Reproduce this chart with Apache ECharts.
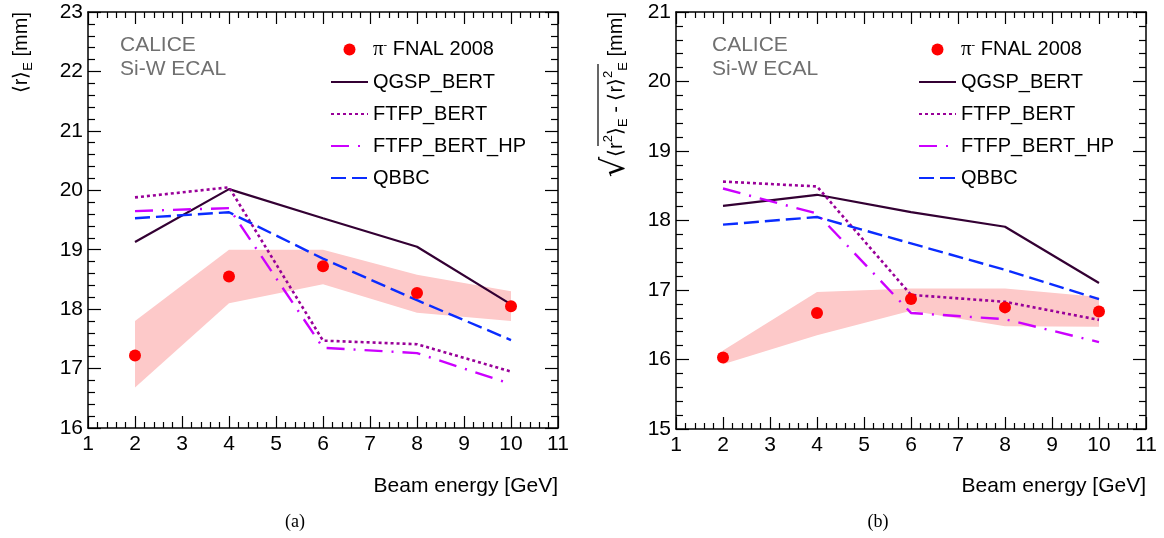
<!DOCTYPE html>
<html>
<head>
<meta charset="utf-8">
<script src="https://cdn.jsdelivr.net/npm/echarts@6/dist/echarts.min.js"></script>
<style>
  html, body { margin: 0; padding: 0; background: #fff; }
  #chart { width: 1164px; height: 538px; }
</style>
</head>
<body>
<div id="chart"></div>
<script>
// beam energies (GeV)
const energy = [2, 4, 6, 8, 10];

// panel (a): mean radius <r>_E [mm]
const dataA = [17.22, 18.55, 18.72, 18.27, 18.05];
const bandLowA = [16.68, 18.10, 18.42, 17.94, 17.80];
const bandHighA = [17.80, 19.00, 19.00, 18.58, 18.30];
const qgspA = [19.13, 20.02, 19.53, 19.05, 18.08];
const ftfpA = [19.88, 20.05, 17.47, 17.41, 16.95];
const ftfpHpA = [19.65, 19.70, 17.35, 17.26, 16.74];
const qbbcA = [19.53, 19.63, 18.85, 18.15, 17.48];

// panel (b): rms radius [mm]
const dataB = [16.03, 16.67, 16.87, 16.75, 16.69];
const bandLowB = [15.93, 16.35, 16.70, 16.48, 16.47];
const bandHighB = [16.13, 16.97, 17.02, 17.02, 16.90];
const qgspB = [18.21, 18.37, 18.12, 17.91, 17.10];
const ftfpB = [18.56, 18.49, 16.93, 16.83, 16.57];
const ftfpHpB = [18.46, 18.10, 16.67, 16.58, 16.25];
const qbbcB = [17.94, 18.05, 17.67, 17.29, 16.87];

const xTicks = [1, 11];
const yRangeA = [16, 23];
const yRangeB = [15, 21];

const names = ["π⁻ FNAL 2008", "QGSP_BERT", "FTFP_BERT", "FTFP_BERT_HP", "QBBC"];
const font = "Liberation Sans, Arial, Helvetica, sans-serif";

const pts = (arr) => arr.map((v, i) => [energy[i], v]);

function xAxis(grid, pos) {
  return {
    type: "value",
    gridIndex: grid,
    position: pos,
    min: xTicks[0],
    max: xTicks[1],
    interval: 1,
    axisLine: { onZero: false, lineStyle: { color: "#000", width: 1.5 } },
    axisTick: { inside: true, length: 12, lineStyle: { color: "#000", width: 1.2 } },
    minorTick: { show: true, splitNumber: 5, length: 6, lineStyle: { color: "#000", width: 1.2 } },
    splitLine: { show: false },
    axisLabel: { show: pos === "bottom", fontSize: 21, color: "#000", fontFamily: font, margin: 6 },
  };
}

function yAxis(grid, pos, range) {
  return {
    type: "value",
    gridIndex: grid,
    position: pos,
    min: range[0],
    max: range[1],
    interval: 1,
    axisLine: { onZero: false, lineStyle: { color: "#000", width: 1.5 } },
    axisTick: { inside: true, length: 13, lineStyle: { color: "#000", width: 1.2 } },
    minorTick: { show: true, splitNumber: 5, length: 7, lineStyle: { color: "#000", width: 1.2 } },
    splitLine: { show: false },
    axisLabel: { show: pos === "left", fontSize: 21, color: "#000", fontFamily: font, margin: 5 },
  };
}

// shaded systematic band drawn as one polygon through the axis scales
function bandSeries(ax, lo, hi) {
  return {
    type: "custom",
    xAxisIndex: ax,
    yAxisIndex: ax,
    silent: true,
    z: 1,
    data: energy.map((x, i) => [x, lo[i], hi[i]]),
    encode: { x: 0, y: [1, 2] },
    renderItem: (params, api) => {
      if (params.dataIndex !== 0) return null;
      const upper = energy.map((x, i) => api.coord([x, hi[i]]));
      const lower = energy.map((x, i) => api.coord([x, lo[i]])).reverse();
      return {
        type: "polygon",
        shape: { points: upper.concat(lower) },
        style: { fill: "#fdc9c9", stroke: null },
      };
    },
  };
}

function panelSeries(ax, d, lo, hi, qgsp, ftfp, hp, qbbc) {
  const common = { xAxisIndex: ax, yAxisIndex: ax, symbol: "none", animation: false, z: 3 };
  return [
    bandSeries(ax, lo, hi),
    Object.assign({}, common, {
      type: "line", name: names[1], data: pts(qgsp),
      lineStyle: { color: "#330033", width: 2.2, type: "solid" }, itemStyle: { color: "#330033" },
    }),
    Object.assign({}, common, {
      type: "line", name: names[2], data: pts(ftfp),
      lineStyle: { color: "#990099", width: 2.6, type: [3, 3] }, itemStyle: { color: "#990099" },
    }),
    Object.assign({}, common, {
      type: "line", name: names[3], data: pts(hp),
      lineStyle: { color: "#cc00ff", width: 2.4, type: [18, 9, 2, 9] }, itemStyle: { color: "#cc00ff" },
    }),
    Object.assign({}, common, {
      type: "line", name: names[4], data: pts(qbbc),
      lineStyle: { color: "#0a2cff", width: 2.4, type: [15, 6] }, itemStyle: { color: "#0a2cff" },
    }),
    {
      type: "scatter", name: names[0], xAxisIndex: ax, yAxisIndex: ax,
      data: pts(d), symbol: "circle", symbolSize: 12,
      itemStyle: { color: "#ff0000", opacity: 1 }, z: 5, animation: false,
    },
  ];
}

function legend(left) {
  return {
    orient: "vertical",
    left: left,
    top: 34,
    itemWidth: 37,
    itemHeight: 12,
    itemGap: 12,
    data: names.map((n, i) => (i === 0 ? { name: n, itemStyle: { opacity: 1 } } : { name: n, itemStyle: { opacity: 0 } })),
    selectedMode: false,
    textStyle: {
      fontSize: 20, color: "#000", fontFamily: font,
      rich: {
        pi: { fontSize: 21, fontFamily: "Liberation Serif, Times New Roman, serif", color: "#000" },
        sup: { fontSize: 11, verticalAlign: "top", lineHeight: 12, color: "#000", fontFamily: font },
        t: { fontSize: 20, fontFamily: font, color: "#000" },
      },
    },
    formatter: (n) => (n === names[0] ? "{pi|π}{sup|-}{t| FNAL 2008}" : n),
  };
}

const labelRich = {
  t: { fontSize: 20, fontFamily: font, color: "#000", lineHeight: 28 },
  sq: { fontSize: 32, fontFamily: "DejaVu Sans, sans-serif", color: "#000", lineHeight: 28 },
  sub: { fontSize: 13, fontFamily: font, color: "#000", lineHeight: 13, verticalAlign: "bottom" },
  sup: { fontSize: 13, fontFamily: font, color: "#000", lineHeight: 13, verticalAlign: "top" },
};

const gray = "#707070";
function note(x, y, s) {
  return { type: "text", x: x, y: y, style: { text: s, font: "21px " + font, fill: gray, align: "left", textAlign: "left", verticalAlign: "middle", textVerticalAlign: "middle" } };
}
function plain(x, y, s, f, align) {
  return { type: "text", x: x, y: y, style: { text: s, font: f, fill: "#000", align: align, textAlign: align, verticalAlign: "middle", textVerticalAlign: "middle" } };
}

const chart = echarts.init(document.getElementById("chart"), null, { renderer: "canvas" });
chart.setOption({
  animation: false,
  backgroundColor: "#fff",
  grid: [
    { left: 88, top: 12, width: 470, height: 416 },
    { left: 676, top: 12, width: 470, height: 417 },
  ],
  xAxis: [xAxis(0, "bottom"), xAxis(1, "bottom"), xAxis(0, "top"), xAxis(1, "top")],
  yAxis: [yAxis(0, "left", yRangeA), yAxis(1, "left", yRangeB), yAxis(0, "right", yRangeA), yAxis(1, "right", yRangeB)],
  legend: [legend(325), legend(913)],
  series: [].concat(
    panelSeries(0, dataA, bandLowA, bandHighA, qgspA, ftfpA, ftfpHpA, qbbcA),
    panelSeries(1, dataB, bandLowB, bandHighB, qgspB, ftfpB, ftfpHpB, qbbcB)
  ),
  graphic: [
    note(120, 45, "CALICE"),
    note(120, 69, "Si-W ECAL"),
    note(712, 45, "CALICE"),
    note(712, 69, "Si-W ECAL"),
    plain(558, 486, "Beam energy [GeV]", "21px " + font, "right"),
    plain(1146, 486, "Beam energy [GeV]", "21px " + font, "right"),
    plain(295, 522, "(a)", "18px Liberation Serif, serif", "center"),
    plain(878, 522, "(b)", "18px Liberation Serif, serif", "center"),
    {
      type: "text", x: 21, y: 12, rotation: Math.PI / 2,
      style: { text: "{t|⟨r⟩}{sub|E}{t| [mm]}", rich: labelRich, align: "right", textAlign: "right", verticalAlign: "middle", textVerticalAlign: "middle" },
    },
    {
      type: "text", x: 616, y: 12, rotation: Math.PI / 2,
      style: { text: "{sq|√}{t|⟨r}{sup|2}{t|⟩}{sub|E}{t| - ⟨r⟩}{sup|2}{sub|E}{t| [mm]}", rich: labelRich, align: "right", textAlign: "right", verticalAlign: "middle", textVerticalAlign: "middle" },
    },
    {
      type: "line", shape: { x1: 598, y1: 64, x2: 598, y2: 146 },
      style: { stroke: "#000", lineWidth: 1.2 },
    },
  ],
});
</script>
</body>
</html>
